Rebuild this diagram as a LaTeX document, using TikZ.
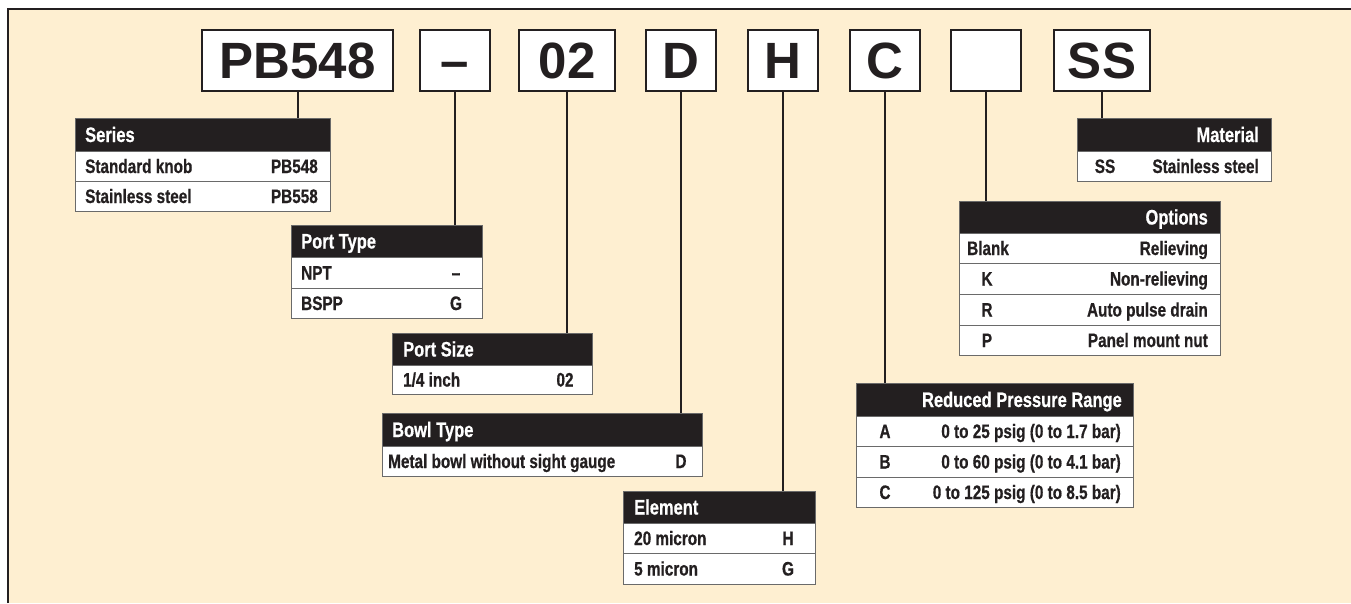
\documentclass[tikz,border=0pt]{standalone}
\usepackage{fontspec}
\setmainfont{Liberation Sans}
\newfontfamily\condfont[FakeStretch=0.785,FakeBold=0.6]{Liberation Sans}
\newfontfamily\bigfont{Liberation Sans}
\definecolor{cream}{HTML}{FEEFD1}
\definecolor{ink}{HTML}{231F20}
\definecolor{tabline}{HTML}{6A6A6A}
\tikzset{
  codebox/.style={draw=ink, line width=2pt, fill=white, inner sep=0pt,
    minimum height=61pt, text height=36.5pt, text depth=0pt,
    font=\bigfont\bfseries\fontsize{51}{55}\selectfont, text=ink},
  hdrbox/.style={draw=tabline, line width=1.2pt, fill=ink, inner sep=0pt, anchor=north west},
  rowbox/.style={draw=tabline, line width=1.2pt, fill=white, inner sep=0pt, anchor=north west},
  hdrtxt/.style={inner sep=0pt, text=white, font=\condfont\bfseries\fontsize{21}{24}\selectfont},
  celltxt/.style={inner sep=0pt, text=ink, font=\condfont\bfseries\fontsize{19.5}{22}\selectfont},
  conn/.style={draw=ink, line width=2pt}
}
\begin{document}
\begin{tikzpicture}[x=1pt,y=-1pt]
\useasboundingbox (0,0) rectangle (1351,603);
\fill[white] (0,0) rectangle (1351,603);
\fill[cream] (8,9) rectangle (1351,603);
\draw[ink, line width=2pt] (8,603) -- (8,9) -- (1351,9);

% code boxes
\node[codebox, minimum width=191pt] (bPB) at (297.5,60.5) {PB548};
\node[codebox, minimum width=70pt] (bDash) at (455,60.5) {\textendash};
\node[codebox, minimum width=96pt] (bO2) at (567,60.5) {02};
\node[codebox, minimum width=70pt] (bD) at (681,60.5) {D};
\node[codebox, minimum width=70pt] (bH) at (783,60.5) {H};
\node[codebox, minimum width=70pt] (bC) at (885,60.5) {C};
\node[codebox, minimum width=70pt] (bBlank) at (986,60.5) {};
\node[codebox, minimum width=96pt] (bSS) at (1102,60.5) {SS};

% Series
\node[hdrbox, minimum width=255pt, minimum height=33pt] (hSeries) at (75,118) {};
\node[rowbox, minimum width=255pt, minimum height=30pt] (sr1) at (75,151) {};
\node[rowbox, minimum width=255pt, minimum height=30pt] (sr2) at (75,181) {};
\node[hdrtxt, anchor=base west] (tSeries) at (85,142) {Series};
\node[celltxt, anchor=base west] (sr1a) at (85,173) {Standard knob};
\node[celltxt, anchor=base east] (sr1b) at (318,173) {PB548};
\node[celltxt, anchor=base west] (sr2a) at (85,203) {Stainless steel};
\node[celltxt, anchor=base east] (sr2b) at (318,203) {PB558};

% Port Type
\node[hdrbox, minimum width=191pt, minimum height=32pt] (hPT) at (291,225) {};
\node[rowbox, minimum width=191pt, minimum height=31pt] (pt1) at (291,257) {};
\node[rowbox, minimum width=191pt, minimum height=30pt] (pt2) at (291,288) {};
\node[hdrtxt, anchor=base west] (tPT) at (301,248.5) {Port Type};
\node[celltxt, anchor=base west] (pt1a) at (301,279.5) {NPT};
\node[celltxt, anchor=base] (pt1b) at (456,279.5) {\textendash};
\node[celltxt, anchor=base west] (pt2a) at (301,310) {BSPP};
\node[celltxt, anchor=base] (pt2b) at (456,310) {G};

% Port Size
\node[hdrbox, minimum width=200pt, minimum height=32pt] (hPS) at (392,333) {};
\node[rowbox, minimum width=200pt, minimum height=29pt] (ps1) at (392,365) {};
\node[hdrtxt, anchor=base west] (tPS) at (403,356.5) {Port Size};
\node[celltxt, anchor=base west] (ps1a) at (403,386.5) {1/4 inch};
\node[celltxt, anchor=base] (ps1b) at (565,386.5) {02};

% Bowl Type
\node[hdrbox, minimum width=320pt, minimum height=33pt] (hBT) at (382,413) {};
\node[rowbox, minimum width=320pt, minimum height=30pt] (bt1) at (382,446) {};
\node[hdrtxt, anchor=base west] (tBT) at (392,437) {Bowl Type};
\node[celltxt, anchor=base west] (bt1a) at (388,468) {Metal bowl without sight gauge};
\node[celltxt, anchor=base] (bt1b) at (681,468) {D};

% Element
\node[hdrbox, minimum width=192pt, minimum height=32pt] (hEl) at (623,491) {};
\node[rowbox, minimum width=192pt, minimum height=30pt] (el1) at (623,523) {};
\node[rowbox, minimum width=192pt, minimum height=31pt] (el2) at (623,553) {};
\node[hdrtxt, anchor=base west] (tEl) at (634,514.5) {Element};
\node[celltxt, anchor=base west] (el1a) at (634,545) {20 micron};
\node[celltxt, anchor=base] (el1b) at (788,545) {H};
\node[celltxt, anchor=base west] (el2a) at (634,575.5) {5 micron};
\node[celltxt, anchor=base] (el2b) at (788,575.5) {G};

% Reduced Pressure Range
\node[hdrbox, minimum width=277pt, minimum height=33pt] (hRP) at (856,383) {};
\node[rowbox, minimum width=277pt, minimum height=30pt] (rp1) at (856,416) {};
\node[rowbox, minimum width=277pt, minimum height=31pt] (rp2) at (856,446) {};
\node[rowbox, minimum width=277pt, minimum height=30pt] (rp3) at (856,477) {};
\node[hdrtxt, anchor=base east] (tRP) at (1122,407) {Reduced Pressure Range};
\node[celltxt, anchor=base] (rp1a) at (885,438) {A};
\node[celltxt, anchor=base east] (rp1b) at (1121,438) {0 to 25 psig (0 to 1.7 bar)};
\node[celltxt, anchor=base] (rp2a) at (885,468.5) {B};
\node[celltxt, anchor=base east] (rp2b) at (1121,468.5) {0 to 60 psig (0 to 4.1 bar)};
\node[celltxt, anchor=base] (rp3a) at (885,499) {C};
\node[celltxt, anchor=base east] (rp3b) at (1121,499) {0 to 125 psig (0 to 8.5 bar)};

% Options
\node[hdrbox, minimum width=261pt, minimum height=32pt] (hOp) at (959,201) {};
\node[rowbox, minimum width=261pt, minimum height=30pt] (op1) at (959,233) {};
\node[rowbox, minimum width=261pt, minimum height=31pt] (op2) at (959,263) {};
\node[rowbox, minimum width=261pt, minimum height=31pt] (op3) at (959,294) {};
\node[rowbox, minimum width=261pt, minimum height=30pt] (op4) at (959,325) {};
\node[hdrtxt, anchor=base east] (tOp) at (1208,224.5) {Options};
\node[celltxt, anchor=base west] (op1a) at (967,255) {Blank};
\node[celltxt, anchor=base east] (op1b) at (1208,255) {Relieving};
\node[celltxt, anchor=base] (op2a) at (987,285.5) {K};
\node[celltxt, anchor=base east] (op2b) at (1208,285.5) {Non-relieving};
\node[celltxt, anchor=base] (op3a) at (987,316.5) {R};
\node[celltxt, anchor=base east] (op3b) at (1208,316.5) {Auto pulse drain};
\node[celltxt, anchor=base] (op4a) at (987,347) {P};
\node[celltxt, anchor=base east] (op4b) at (1208,347) {Panel mount nut};

% Material
\node[hdrbox, minimum width=194pt, minimum height=33pt] (hMa) at (1077,118) {};
\node[rowbox, minimum width=194pt, minimum height=30pt] (ma1) at (1077,151) {};
\node[hdrtxt, anchor=base east] (tMa) at (1259,142) {Material};
\node[celltxt, anchor=base] (ma1a) at (1105,173) {SS};
\node[celltxt, anchor=base east] (ma1b) at (1259,173) {Stainless steel};

% connectors
\draw[conn] (bPB.south) -- (bPB.south |- hSeries.north);
\draw[conn] (bDash.south) -- (bDash.south |- hPT.north);
\draw[conn] (bO2.south) -- (bO2.south |- hPS.north);
\draw[conn] (bD.south) -- (bD.south |- hBT.north);
\draw[conn] (bH.south) -- (bH.south |- hEl.north);
\draw[conn] (bC.south) -- (bC.south |- hRP.north);
\draw[conn] (bBlank.south) -- (bBlank.south |- hOp.north);
\draw[conn] (bSS.south) -- (bSS.south |- hMa.north);
\end{tikzpicture}
\end{document}
